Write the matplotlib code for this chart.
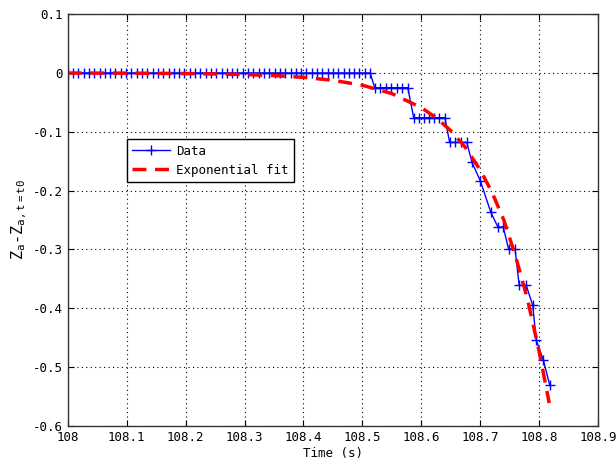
import matplotlib
matplotlib.use("Agg")
from matplotlib import pyplot as plt

plt.rcParams['font.family'] = 'DejaVu Sans Mono'
plt.rcParams['axes.unicode_minus'] = False

# data (time in s, displacement)
t_data = [108.000, 108.009, 108.018, 108.027, 108.036, 108.045, 108.054, 108.063,
          108.072, 108.081, 108.090, 108.099, 108.108, 108.117, 108.126, 108.135,
          108.144, 108.153, 108.162, 108.171, 108.180, 108.189, 108.198, 108.207,
          108.216, 108.225, 108.234, 108.243, 108.252, 108.261, 108.270, 108.279,
          108.288, 108.297, 108.306, 108.315, 108.324, 108.333, 108.342, 108.351,
          108.360, 108.369, 108.378, 108.387, 108.396, 108.405, 108.414, 108.423,
          108.432, 108.441, 108.450, 108.459, 108.468, 108.477, 108.486, 108.495,
          108.504, 108.513,
          108.521, 108.530, 108.540, 108.549, 108.558, 108.567, 108.577,
          108.587, 108.596, 108.604, 108.613, 108.621, 108.630, 108.640,
          108.648, 108.657, 108.667, 108.677,
          108.686, 108.700, 108.718, 108.730, 108.739, 108.748, 108.759,
          108.766, 108.778, 108.789, 108.795, 108.807, 108.818]
z_data = [0.0] * 58 + \
         [-0.025, -0.025, -0.025, -0.025, -0.025, -0.025, -0.025,
          -0.076, -0.076, -0.076, -0.076, -0.076, -0.076, -0.076,
          -0.118, -0.118, -0.118, -0.118,
          -0.152, -0.183, -0.237, -0.262, -0.262, -0.299, -0.299,
          -0.361, -0.361, -0.395, -0.454, -0.488, -0.531]

# exponential fit curve
t_fit = [108.00, 108.10, 108.20, 108.30, 108.35, 108.40, 108.45, 108.50, 108.55,
         108.60, 108.625, 108.65, 108.675, 108.70, 108.72, 108.74, 108.76,
         108.78, 108.80, 108.817]
z_fit = [0.0, -0.0003, -0.0009, -0.0026, -0.0044, -0.0074, -0.0124, -0.0208,
         -0.035, -0.059, -0.076, -0.098, -0.127, -0.165, -0.203, -0.250, -0.312,
         -0.384, -0.474, -0.561]

x_ticks = [108, 108.1, 108.2, 108.3, 108.4, 108.5, 108.6, 108.7, 108.8, 108.9]
y_ticks = [-0.6, -0.5, -0.4, -0.3, -0.2, -0.1, 0, 0.1]

fig = plt.figure(figsize=(6.16, 4.72), dpi=100)
ax = fig.add_axes([0.110, 0.0975, 0.861, 0.8725])

ax.plot(t_data, z_data, color='#0000ff', lw=1, marker='+', ms=6.5, mew=1,
        label='Data')
ax.plot(t_fit, z_fit, color='#ff0000', lw=2.5, ls=(0, (4, 2.5)),
        label='Exponential fit')

ax.set_xlim(108, 108.9)
ax.set_ylim(-0.6, 0.1)
ax.set_xticks(x_ticks)
ax.set_xticklabels(['%g' % v for v in x_ticks])
ax.set_yticks(y_ticks)
ax.set_yticklabels(['%g' % v for v in y_ticks])
ax.grid(True, color='black', ls=(0, (1, 3)), lw=0.8)
ax.tick_params(direction='in', top=True, right=True, labelsize=9, length=4)
for s in ax.spines.values():
    s.set_color('#333333')
    s.set_linewidth(1)

ax.set_xlabel('Time (s)', fontsize=9, labelpad=2)
ax.set_ylabel(r'Z$_\mathregular{a}$-Z$_\mathregular{a,t=t0}$', fontsize=11,
              labelpad=3)

leg = ax.legend(loc='upper left', bbox_to_anchor=(0.111, 0.697), fontsize=9,
                fancybox=False, framealpha=1, edgecolor='black',
                handlelength=3.0, handletextpad=0.5, borderpad=0.45,
                labelspacing=0.5, borderaxespad=0)
leg.get_frame().set_linewidth(1)

fig.savefig('out.png', dpi=100)
